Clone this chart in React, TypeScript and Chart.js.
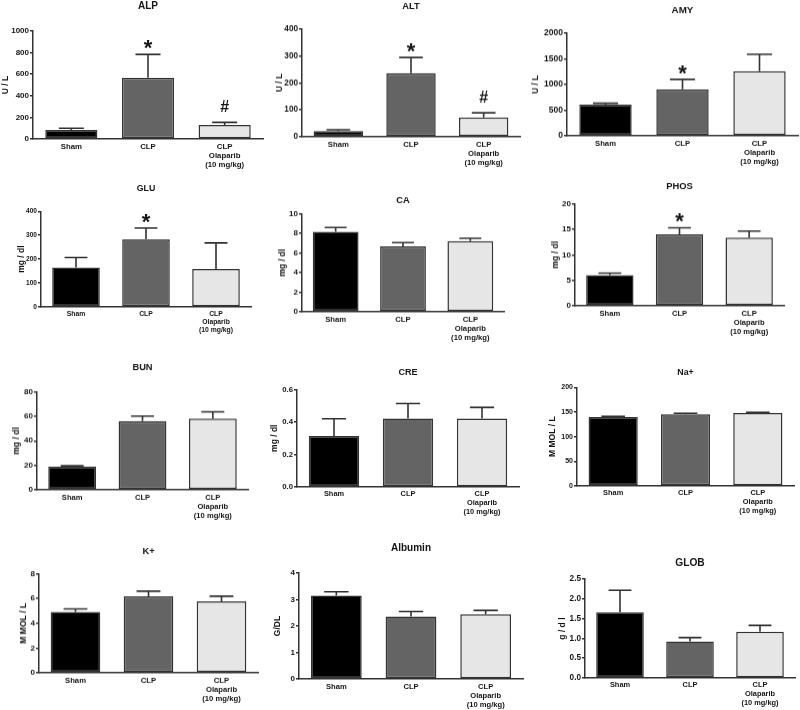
import React, { useEffect, useRef } from "react";
import { Chart, registerables } from "chart.js";

Chart.register(...registerables);

const FONT = "'Liberation Sans', Arial, sans-serif";

// ---- data ----
const categories: (string | string[])[] = ["Sham", "CLP", ["CLP", "Olaparib", "(10 mg/kg)"]];
const panelTitles = ["ALP", "ALT", "AMY", "GLU", "CA", "PHOS", "BUN", "CRE", "Na+", "K+", "Albumin", "GLOB"];
const yAxisTitles = ["U / L", "U / L", "U / L", "mg / dl", "mg / dl", "mg / dl", "mg / dl", "mg / dl", "M MOL / L", "M MOL / L", "G/DL", "g / d l"];

const alpMean = [83, 568, 130];
const alpSem = [16, 216, 24];
const altMean = [21, 236, 72];
const altSem = [5, 58, 17];
const amyMean = [608, 906, 1256];
const amySem = [26, 194, 330];
const gluMean = [165, 283, 159];
const gluSem = [42, 47, 109];
const caMean = [8.16, 6.66, 7.2];
const caSem = [0.44, 0.4, 0.3];
const phosMean = [6.0, 14.0, 13.35];
const phosSem = [0.4, 1.3, 1.3];
const bunMean = [18.8, 56, 58.2];
const bunSem = [0.8, 4.1, 5.5];
const creMean = [0.313, 0.422, 0.422];
const creSem = [0.107, 0.092, 0.068];
const naMean = [140, 145.5, 148];
const naSem = [1.4, 2, 1.5];
const kMean = [4.92, 6.19, 5.78];
const kSem = [0.24, 0.41, 0.41];
const albMean = [3.15, 2.36, 2.44];
const albSem = [0.14, 0.19, 0.15];
const globMean = [1.66, 0.92, 1.17];
const globSem = [0.56, 0.1, 0.16];

const means = [alpMean, altMean, amyMean, gluMean, caMean, phosMean, bunMean, creMean, naMean, kMean, albMean, globMean];
const sems = [alpSem, altSem, amySem, gluSem, caSem, phosSem, bunSem, creSem, naSem, kSem, albSem, globSem];

const alpMarks = ["", "*", "#"];
const altMarks = ["", "*", "#"];
const amyMarks = ["", "*", ""];
const gluMarks = ["", "*", ""];
const phosMarks = ["", "*", ""];
const noMarks = ["", "", ""];
const marks = [alpMarks, altMarks, amyMarks, gluMarks, noMarks, phosMarks, noMarks, noMarks, noMarks, noMarks, noMarks, noMarks];

const yMax = [1000, 400, 2000, 400, 10, 20, 80, 0.6, 200, 8, 4, 2.5];
const yStep = [200, 100, 500, 100, 2, 5, 20, 0.2, 50, 2, 1, 0.5];
const yDecimals = [0, 0, 0, 0, 0, 0, 0, 1, 0, 0, 0, 1];

// ---- layout (page pixels): plot left, plot right, plot top, plot bottom, title centre y, y-title offset from axis ----
const panelLayout = [
  [33, 263, 31, 139, 6, 27],
  [302, 520, 29, 137, 7, 22],
  [567, 798, 33, 136, 10, 31],
  [41, 251, 211, 307, 188, 19],
  [302, 504, 214, 312, 201, 19],
  [575, 784, 204, 306, 187, 19],
  [37, 248, 392, 490, 368, 20],
  [297, 519, 389, 487, 372, 22],
  [577, 794, 387, 486, 372, 24],
  [39, 258, 574, 673, 552, 15],
  [299, 523, 573, 679, 548, 21],
  [585, 795, 579, 678, 563, 22],
];
// font sizes per panel: title, y ticks, category labels
const titleSizes = [10, 9.4, 9.8, 8.8, 9.3, 9.4, 9.3, 9.1, 8.8, 9.4, 10, 10.2];
const tickSizes = [8, 8.2, 8.5, 6.6, 8, 8, 8, 7.8, 7, 8, 8, 8.2];
const catSizes = [7.8, 7.7, 7.7, 6.8, 7.7, 7.6, 7.6, 7.4, 7.4, 7.7, 7.6, 7.4];

const barFills = ["#000000", "#646464", "#e6e6e6"];
const INK = "#333333";
const TEXT = "#151515";

const errorBarPlugin = {
  id: "errorBars",
  afterDatasetsDraw(chart: any, _args: any, opts: any) {
    const { ctx } = chart;
    const yScale = chart.scales.y;
    const meta = chart.getDatasetMeta(0);
    const m: number[] = opts.means;
    const s: number[] = opts.sems;
    const mk: string[] = opts.marks;
    ctx.save();
    meta.data.forEach((bar: any, i: number) => {
      const x = bar.x;
      const w = bar.width;
      const yTop = yScale.getPixelForValue(m[i] + s[i]);
      const yBar = yScale.getPixelForValue(m[i]);
      ctx.strokeStyle = INK;
      ctx.lineWidth = 1.6;
      ctx.beginPath();
      ctx.moveTo(x, yBar);
      ctx.lineTo(x, yTop);
      ctx.moveTo(x - w * 0.24, yTop);
      ctx.lineTo(x + w * 0.24, yTop);
      ctx.stroke();
      const t = mk[i];
      if (t) {
        ctx.fillStyle = TEXT;
        ctx.textAlign = "center";
        ctx.textBaseline = "alphabetic";
        if (t === "*") {
          ctx.font = `bold 22px ${FONT}`;
          const mt = ctx.measureText(t);
          const desc = mt.actualBoundingBoxDescent || 0;
          ctx.fillText(t, x, yTop - 5 - desc);
        } else {
          ctx.font = `bold 16px ${FONT}`;
          const mt = ctx.measureText(t);
          const desc = mt.actualBoundingBoxDescent || 0;
          ctx.fillText(t, x, yTop - 10 - desc);
        }
      }
    });
    ctx.restore();
  },
};

const YW = 44;
const XH = 36;
const PR = 6;
const YT_SIZE = 8.5;
const YT_LH = YT_SIZE * 1.2;

function Panel({ idx }: { idx: number }) {
  const ref = useRef<HTMLCanvasElement | null>(null);
  const [L, R, T, B, TY, YD] = panelLayout[idx];
  const titleLH = titleSizes[idx] * 1.2;
  const canvasLeft = L - YW;
  const canvasTop = TY - 2 - titleLH / 2;
  const W = YW + (R - L) + PR;
  const H = B - canvasTop + XH;

  useEffect(() => {
    if (!ref.current) return;
    const dec = yDecimals[idx];
    const chart = new Chart(ref.current, {
      type: "bar",
      data: {
        labels: categories as any,
        datasets: [
          {
            data: means[idx],
            backgroundColor: barFills,
            borderColor: INK,
            borderWidth: 1.5,
            borderSkipped: false,
            barPercentage: 0.68,
            categoryPercentage: 1,
          },
        ],
      },
      options: {
        responsive: false,
        animation: false,
        devicePixelRatio: 1,
        layout: { padding: { left: 0, top: 0, right: PR, bottom: 0 } },
        plugins: {
          legend: { display: false },
          tooltip: { enabled: false },
          title: {
            display: true,
            text: panelTitles[idx],
            fullSize: false,
            color: TEXT,
            font: { family: FONT, size: titleSizes[idx], weight: "bold", lineHeight: 1.2 },
            padding: { top: 2, bottom: T - TY - titleLH / 2 },
          },
          errorBars: { means: means[idx], sems: sems[idx], marks: marks[idx] },
        } as any,
        scales: {
          x: {
            type: "category",
            offset: true,
            grid: { display: true, drawOnChartArea: false, drawTicks: false },
            border: { display: true, color: INK, width: 1.5 },
            ticks: {
              color: TEXT,
              font: { family: FONT, size: catSizes[idx], weight: "bold", lineHeight: 1.18 },
              padding: 3,
              maxRotation: 0,
              autoSkip: false,
            },
            afterFit: (s: any) => {
              s.height = XH;
            },
          },
          y: {
            min: 0,
            max: yMax[idx],
            grid: { display: true, drawOnChartArea: false, drawTicks: true, tickLength: 3, color: INK, lineWidth: 1.5 },
            border: { display: true, color: INK, width: 1.5 },
            ticks: {
              stepSize: yStep[idx],
              color: TEXT,
              font: { family: FONT, size: tickSizes[idx], weight: "bold" },
              padding: 1,
              callback: (v: any) => Number(v).toFixed(dec),
            },
            title: {
              display: true,
              text: yAxisTitles[idx],
              color: TEXT,
              font: { family: FONT, size: YT_SIZE, weight: "bold", lineHeight: 1.2 },
              padding: { top: YW - YD - YT_LH / 2, bottom: 0 },
            },
            afterFit: (s: any) => {
              s.width = YW;
            },
          },
        },
      } as any,
      plugins: [errorBarPlugin],
    });
    return () => chart.destroy();
  }, [idx]);

  return (
    <canvas
      ref={ref}
      width={W}
      height={H}
      style={{ position: "absolute", left: canvasLeft, top: canvasTop, width: W, height: H }}
    />
  );
}

export default function App() {
  return (
    <div style={{ position: "absolute", left: 0, top: 0, width: 800, height: 710, background: "#ffffff", overflow: "hidden" }}>
      {panelTitles.map((_, i) => (
        <Panel key={i} idx={i} />
      ))}
    </div>
  );
}
